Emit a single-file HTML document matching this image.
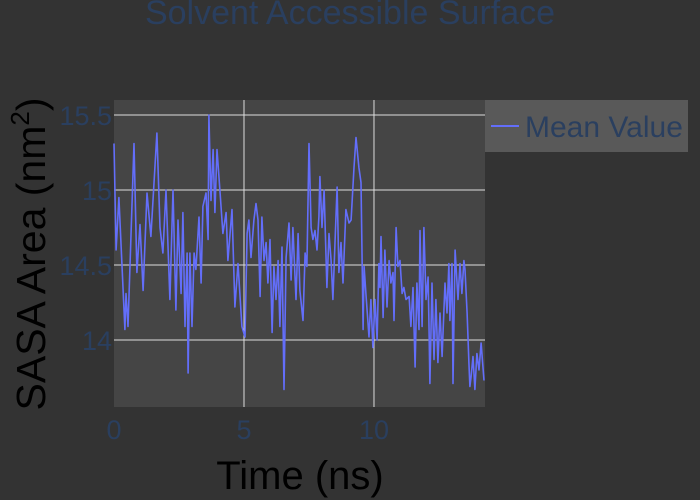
<!DOCTYPE html>
<html><head><meta charset="utf-8"><style>
html,body{margin:0;padding:0;background:#333333;}
svg{display:block;font-family:"Liberation Sans",sans-serif;}
</style></head><body>
<svg id="chart" width="700" height="500" viewBox="0 0 700 500" xmlns="http://www.w3.org/2000/svg">
<rect width="700" height="500" fill="#333333"/>
<rect x="114" y="100" width="371" height="307" fill="#454545"/>
<g id="grid"></g>
<g id="series"></g>
<g id="ticks"></g>
<text x="350" y="24" text-anchor="middle" font-size="34" fill="#2a3f5f">Solvent Accessible Surface</text>
<text x="300" y="489" text-anchor="middle" font-size="40" fill="#000">Time (ns)</text>
<text transform="translate(45,254) rotate(-90)" text-anchor="middle" font-size="41" fill="#000">SASA Area (nm<tspan dy="-16" font-size="26">2</tspan><tspan dy="16">)</tspan></text>
<g>
<rect x="485" y="100" width="203" height="52" fill="#595959"/>
<line x1="491" y1="126" x2="519" y2="126" stroke="#636efa" stroke-width="2"/>
<text x="525" y="137" font-size="30" fill="#2a3f5f">Mean Value</text>
</g>
</svg>
<script>
const timeNs = [0,0.08,0.19,0.42,0.46,0.54,0.77,0.88,1.0,1.12,1.27,1.42,1.65,1.77,1.88,2.0,2.15,2.27,2.38,2.46,2.58,2.65,2.73,2.81,2.85,2.92,3.0,3.08,3.15,3.27,3.35,3.42,3.54,3.62,3.65,3.73,3.81,3.88,3.96,4.08,4.19,4.31,4.38,4.54,4.65,4.77,
4.92,5.04,5.12,5.19,5.27,5.38,5.46,5.54,5.62,5.69,5.77,5.85,5.92,6.0,6.08,6.15,6.23,6.31,6.38,6.46,6.54,6.62,6.73,6.81,6.88,7.0,7.08,7.15,7.27,7.35,7.42,7.5,7.58,7.65,7.73,7.81,7.88,7.92,8.0,8.08,8.19,8.27,8.35,8.42,8.5,8.58,8.65,8.73,8.81,8.92,9.04,9.12,9.23,9.31,9.42,9.5,
9.58,9.62,9.69,9.81,9.88,9.96,10.04,10.12,10.19,10.23,10.27,10.35,10.42,10.5,10.58,10.65,10.73,10.77,10.85,10.92,11.0,11.08,11.15,11.23,11.35,11.42,11.5,11.58,11.65,11.73,11.77,11.85,11.92,12.0,12.08,12.12,12.15,12.23,12.31,12.38,12.46,12.54,12.62,12.73,12.81,12.88,12.92,13.0,13.04,13.12,13.23,13.31,13.38,13.46,13.5,13.58,13.65,13.69,13.73,13.81,13.88,13.96,14.04,14.12,14.23];
const sasaValues = [15.31,14.6,14.95,14.07,14.31,14.09,15.31,14.45,14.77,14.33,14.98,14.69,15.38,14.75,14.58,15.0,14.27,15.0,14.2,14.8,14.31,14.85,14.09,14.58,13.78,14.58,14.09,14.58,14.47,14.82,14.38,14.89,14.98,14.67,15.5,14.93,15.27,14.85,15.27,14.98,14.71,14.85,14.53,14.87,14.22,14.51,
14.09,14.02,14.71,14.8,14.55,14.8,14.91,14.8,14.29,14.82,14.53,14.65,14.38,14.67,14.05,14.49,14.27,14.53,14.09,14.62,13.67,14.55,14.78,14.4,14.75,14.27,14.71,14.33,14.13,14.58,14.49,15.31,14.75,14.67,14.73,14.6,14.82,15.09,14.75,15.0,14.35,14.71,14.53,14.27,14.65,15.02,14.45,14.65,14.38,14.87,14.78,14.8,15.15,15.35,15.15,15.05,
14.07,14.49,14.31,14.02,14.27,13.95,14.27,14.0,14.51,14.35,14.69,14.15,14.6,14.22,14.53,14.38,14.45,14.13,14.75,14.49,14.53,14.31,14.35,14.27,14.29,14.09,14.35,13.82,14.38,14.07,14.73,14.09,14.75,14.27,14.42,14.05,13.71,14.38,13.87,14.27,13.85,14.18,13.89,14.38,14.18,14.51,14.13,14.51,13.71,14.6,14.27,14.51,14.31,14.53,14.47,14.18,13.85,13.69,13.75,13.89,13.67,13.91,13.8,13.98,13.73];
const xTicks = [0,5,10];
const xTickLabels = ["0","5","10"];
const yTicks = [14,14.5,15,15.5];
const yTickLabels = ["14","14.5","15","15.5"];

const NS='http://www.w3.org/2000/svg';
const X0=114,X1=485,Y0=407,Y1=100;
const xMin=0,xMax=14.27,yMin=13.553,yMax=15.6;
const xs=v=>X0+(v-xMin)/(xMax-xMin)*(X1-X0);
const ys=v=>Y0-(v-yMin)/(yMax-yMin)*(Y0-Y1);
const grid=document.getElementById('grid'),ticks=document.getElementById('ticks'),series=document.getElementById('series');
yTicks.forEach((v,i)=>{
  const l=document.createElementNS(NS,'line');
  l.setAttribute('x1',X0);l.setAttribute('x2',X1);l.setAttribute('y1',ys(v));l.setAttribute('y2',ys(v));
  l.setAttribute('stroke','#dddddd');l.setAttribute('stroke-width','1');
  
  
  grid.appendChild(l);
  const t=document.createElementNS(NS,'text');
  t.setAttribute('x',X0-2);t.setAttribute('y',ys(v)+10);t.setAttribute('text-anchor','end');
  t.setAttribute('font-size','27');t.setAttribute('fill','#2a3f5f');t.textContent=yTickLabels[i];
  
  
  ticks.appendChild(t);
});
xTicks.forEach((v,i)=>{
  if(v>xMin){
    const l=document.createElementNS(NS,'line');
    l.setAttribute('x1',xs(v));l.setAttribute('x2',xs(v));l.setAttribute('y1',Y1);l.setAttribute('y2',Y0);
    l.setAttribute('stroke','#dddddd');l.setAttribute('stroke-width','1');
    
    
    grid.appendChild(l);
  }
  const t=document.createElementNS(NS,'text');
  t.setAttribute('x',xs(v));t.setAttribute('y',439);t.setAttribute('text-anchor','middle');
  t.setAttribute('font-size','27');t.setAttribute('fill','#2a3f5f');t.textContent=xTickLabels[i];
  
  
  ticks.appendChild(t);
});
const pts=sasaValues.map((v,i)=>xs(timeNs[i]).toFixed(1)+','+ys(v).toFixed(1)).join(' ');
const pl=document.createElementNS(NS,'polyline');
pl.setAttribute('points',pts);pl.setAttribute('fill','none');pl.setAttribute('stroke','#636efa');
pl.setAttribute('stroke-width','1.6');pl.setAttribute('stroke-linejoin','round');


series.appendChild(pl);
</script>
</body></html>
